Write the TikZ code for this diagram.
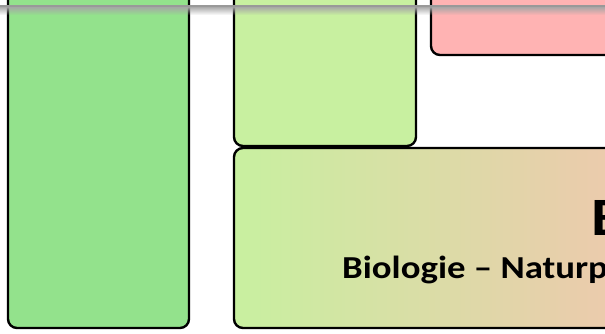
\documentclass[tikz,border=0pt]{standalone}
\usepackage{fontspec}
\setmainfont{Carlito}
\usetikzlibrary{positioning,fadings}
\definecolor{gruen}{HTML}{93E28C}
\definecolor{hellgruen}{HTML}{C8F0A0}
\definecolor{rosa}{HTML}{FFB3B3}
\definecolor{pfirsich}{HTML}{EEC8AD}
\definecolor{graublau}{HTML}{5A7BB0}
\tikzset{kasten/.style={draw, line width=2.4pt, rounded corners=9pt, inner sep=0pt, outer sep=0pt}}
\tikzset{schrift/.style={anchor=base west, inner sep=0pt, xscale=1.15, transform shape}}

\begin{document}
\begin{tikzpicture}[x=1pt, y=-1pt]
            \useasboundingbox (0,0) rectangle (605,333);
            \node[schrift, text=graublau, font=\fontsize{24}{28}\selectfont] (zeile) at (30,4.5) {-\ wie du heißt};

            \node[kasten, fill=gruen, minimum width=181pt, minimum height=348pt] (links) at (98.5,154) {};
            \node[kasten, fill=hellgruen, minimum width=182pt, minimum height=176pt] (mitte) at (325,58) {};
            \node[kasten, fill=rosa, minimum width=230pt, minimum height=95pt] (rechts) at (546,7.5) {};
            \node[kasten, left color=hellgruen, right color=pfirsich, minimum width=400pt, minimum height=180pt] (unten) at (434,238) {};

            \node[schrift, font=\bfseries\fontsize{54}{60}\selectfont] (titel) at (591,235) {Biologie};
            \node[schrift, font=\bfseries\fontsize{32}{38}\selectfont] (untertitel) at (342,278) {Biologie – Naturphänomene};

            \fill[black!40] (0,4.5) rectangle (605,6.5);
            \fill[black!35, path fading=south] (0,6.5) rectangle (605,15);
\end{tikzpicture}
\end{document}
